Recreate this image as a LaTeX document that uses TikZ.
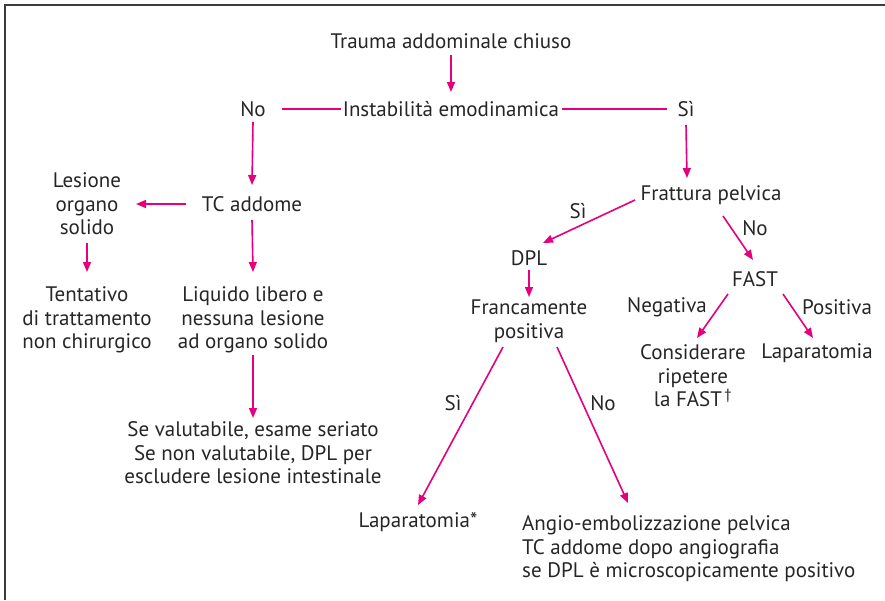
\documentclass[tikz,border=0pt]{standalone}
\usepackage{fontspec}
\setmainfont{PT Sans}
\usetikzlibrary{arrows.meta,calc}
\definecolor{pk}{RGB}{230,0,126}
\definecolor{fr}{RGB}{60,60,60}
\newcommand{\fs}{\fontsize{21}{23.5}\selectfont}
\tikzset{
 lbl/.style={inner sep=0pt, align=center, font=\fs, text=black!85},
 arr/.style={draw=pk, line width=1.6pt, -{Triangle[length=10pt,width=8pt]}},
 ln/.style={draw=pk, line width=1.6pt},
 frame/.style={draw=fr, line width=2pt},
}
\begin{document}
\begin{tikzpicture}[x=1pt,y=-1pt]
\useasboundingbox[fill=white] (0,0) rectangle (885,600);
\draw[frame] (5,600) -- (5,5) -- (885,5);
\node[lbl] (trauma) at (451,41) {Trauma addominale chiuso};
\node[lbl] (instab) at (451,109) {Instabilità emodinamica};
\node[lbl] (no1) at (253,109) {No};
\node[lbl] (si1) at (686,109) {Sì};
\node[lbl] (tc) at (252,204) {TC addome};
\node[lbl] (lesione) at (87,204) {Lesione\\organo\\solido};
\node[lbl] (tentativo) at (87,320) {Tentativo\\di trattamento\\non chirurgico};
\node[lbl] (liquido) at (253,320) {Liquido libero e\\nessuna lesione\\ad organo solido};
\node[lbl] (seval) at (253,453) {Se valutabile, esame seriato\\Se non valutabile, DPL per\\escludere lesione intestinale};
\node[lbl] (frattura) at (711,195) {Frattura pelvica};
\node[lbl] (dpl) at (529,258) {DPL};
\node[lbl] (franc) at (529,321) {Francamente\\positiva};
\node[lbl] (fast) at (755,279) {FAST};
\node[lbl] (consid) at (693,376) {Considerare\\ripetere\\la FAST\textsuperscript{\,†}};
\node[lbl] (lap1) at (817,353) {Laparatomia};
\node[lbl] (lap2) at (418,522) {Laparatomia*};
\node[lbl, align=left, anchor=west] (angio) at (522,549) {Angio-embolizzazione pelvica\\TC addome dopo angiografia\\se DPL è microscopicamente positivo};
\node[lbl] (si2) at (578,211) {Sì};
\node[lbl] (no2) at (755,228) {No};
\node[lbl] (neg) at (667,307) {Negativa};
\node[lbl] (pos) at (837,307) {Positiva};
\node[lbl] (si3) at (453,403) {Sì};
\node[lbl] (no3) at (603,403) {No};
% connectors
\draw[arr] ($(trauma.center)+(0,14)$) -- ($(instab.center)+(0,-17)$);
\draw[ln] ($(no1.center)+(29,0)$) -- ($(instab.west)+(-2,0)$);
\draw[ln] ($(instab.east)+(3,0)$) -- ($(si1.center)+(-19,0)$);
\draw[arr] ($(no1.center)+(0,13)$) -- ($(tc.center)+(0,-19)$);
\draw[arr] ($(tc.center)+(-66,0)$) -- ($(lesione.center)+(49,0)$);
\draw[arr] ($(lesione.center)+(0,39)$) -- ($(tentativo.center)+(0,-48)$);
\draw[arr] ($(tc.center)+(0,16)$) -- ($(liquido.center)+(0,-48)$);
\draw[arr] ($(liquido.center)+(0,35)$) -- ($(seval.center)+(0,-35)$);
\draw[arr] ($(si1.center)+(0,16)$) -- ($(frattura.center)+(-24,-17)$);
\draw[arr] ($(frattura.center)+(-76,5)$) -- ($(dpl.center)+(14,-15)$);
\draw[arr] ($(frattura.center)+(12,21)$) -- ($(fast.center)+(-2,-19)$);
\draw[arr] ($(dpl.center)+(0,12)$) -- ($(franc.center)+(0,-24)$);
\draw[arr] ($(fast.center)+(-27,15)$) -- ($(consid.center)+(4,-38)$);
\draw[arr] ($(fast.center)+(28,15)$) -- ($(lap1.center)+(-4,-15)$);
\draw[arr] ($(franc.center)+(-26,26)$) -- ($(lap2.center)+(0,-17)$);
\draw[arr] ($(franc.center)+(28,26)$) -- ($(angio.west)+(106,-46)$);
\end{tikzpicture}
\end{document}
